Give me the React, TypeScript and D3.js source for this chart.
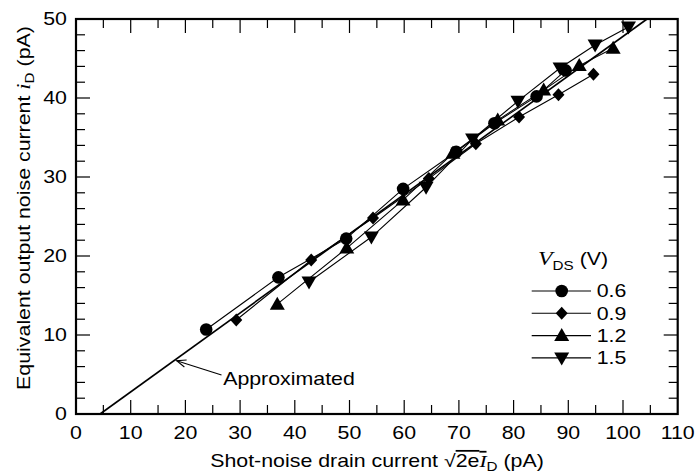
import React from "react";
import * as d3 from "d3";

const xTicks = [0, 10, 20, 30, 40, 50, 60, 70, 80, 90, 100, 110];
const yTicks = [0, 10, 20, 30, 40, 50];
const seriesNames = ["0.6", "0.9", "1.2", "1.5"];
const seriesMarkers = ["circle", "diamond", "triUp", "triDown"];

const s06: [number, number][] = [
  [23.8, 10.7], [37, 17.3], [49.4, 22.2], [59.8, 28.5], [69.5, 33.2], [76.5, 36.8], [84.2, 40.2], [89.5, 43.5],
];
const s09: [number, number][] = [
  [29.3, 11.9], [43, 19.5], [54.3, 24.8], [64.5, 29.8], [73.1, 34.2], [81, 37.6], [88.2, 40.4], [94.6, 43],
];
const s12: [number, number][] = [
  [36.8, 13.9], [49.5, 21], [59.8, 27.1], [68.9, 33], [77.1, 37.2], [85.5, 41], [92, 44.1], [98.2, 46.3],
];
const s15: [number, number][] = [
  [42.6, 16.7], [54, 22.4], [64, 28.7], [72.5, 34.8], [80.8, 39.6], [88.5, 43.8], [94.9, 46.7], [101, 49],
];
const seriesData = [s06, s09, s12, s15];
const approxLine: [number, number][] = [[4.4, 0], [104.4, 50]];

const W = 697, H = 474;
const L = 76, R = 677.7, T = 19, B = 414;
const x = d3.scaleLinear().domain([0, 110]).range([L, R]);
const y = d3.scaleLinear().domain([0, 50]).range([B, T]);
const SX = 1.22;
const FONT = "'Liberation Sans', Arial, Helvetica, sans-serif";
const SERIF = "'Liberation Serif', 'Times New Roman', serif";

function Marker({ type, cx, cy }: { type: string; cx: number; cy: number }) {
  if (type === "circle") return <circle cx={cx} cy={cy} r={6.3} fill="#000" />;
  if (type === "diamond")
    return <path d={`M${cx},${cy - 6.5}L${cx + 6},${cy}L${cx},${cy + 6.5}L${cx - 6},${cy}Z`} fill="#000" />;
  if (type === "triUp")
    return <path d={`M${cx},${cy - 7.5}L${cx + 7.5},${cy + 5.5}L${cx - 7.5},${cy + 5.5}Z`} fill="#000" />;
  return <path d={`M${cx},${cy + 7.5}L${cx + 7.5},${cy - 5.5}L${cx - 7.5},${cy - 5.5}Z`} fill="#000" />;
}

function SText(props: any) {
  const { x: tx, y: ty, anchor = "start", size = 17.5, rotate = 0, children, ...rest } = props;
  return (
    <text
      transform={`translate(${tx},${ty})${rotate ? ` rotate(${rotate})` : ""} scale(${SX},1)`}
      textAnchor={anchor}
      fontSize={size}
      fontFamily={FONT}
      fill="#000"
      {...rest}
    >
      {children}
    </text>
  );
}

export default function App() {
  const line = d3.line<[number, number]>().x((d) => x(d[0])).y((d) => y(d[1]));
  const xMinor = d3.range(0, 111, 5);
  const yMinor = d3.range(0, 51, 2);
  const legX0 = 531.7, legX1 = 591, legM = 561.7, legTextX = 596.7;
  const legY = [291, 313.3, 335.6, 357.9];

  const tipX = x(18.4), tipY = y(6.75);
  const tailX = x(26.6), tailY = y(4.94);
  const ang = Math.atan2(tailY - tipY, tailX - tipX);
  const ah = 10, aw = 0.38;

  return (
    <svg width={W} height={H} style={{ position: "absolute", left: 0, top: 0, background: "#fff" }}>
      <rect x={0} y={0} width={W} height={H} fill="#fff" />
      {xMinor.map((v) => {
        const major = v % 10 === 0;
        const len = major ? 14 : 9;
        if (v === 0 || v === 110) return null;
        return (
          <g key={"xt" + v} stroke="#000" strokeWidth={1.2}>
            <line x1={x(v)} x2={x(v)} y1={B} y2={B - len} />
            <line x1={x(v)} x2={x(v)} y1={T} y2={T + len} />
          </g>
        );
      })}
      {yMinor.map((v) => {
        const major = v % 10 === 0;
        const len = major ? 14 : 9;
        if (v === 0 || v === 50) return null;
        return (
          <g key={"yt" + v} stroke="#000" strokeWidth={1.2}>
            <line x1={L} x2={L + len} y1={y(v)} y2={y(v)} />
            <line x1={R} x2={R - len} y1={y(v)} y2={y(v)} />
          </g>
        );
      })}
      <path d={line(approxLine) || ""} fill="none" stroke="#000" strokeWidth={1.6} />
      {seriesData.map((s, i) => (
        <g key={"s" + i}>
          <path d={line(s) || ""} fill="none" stroke="#000" strokeWidth={1.1} />
          {s.map((d, j) => (
            <Marker key={j} type={seriesMarkers[i]} cx={x(d[0])} cy={y(d[1])} />
          ))}
        </g>
      ))}
      <rect x={L} y={T} width={R - L} height={B - T} fill="none" stroke="#000" strokeWidth={2.2} />
      {xTicks.map((v) => (
        <SText key={"xl" + v} x={x(v)} y={438.5} anchor="middle">
          {v}
        </SText>
      ))}
      {yTicks.map((v) => (
        <SText key={"yl" + v} x={67} y={y(v) + 6.3} anchor="end">
          {v}
        </SText>
      ))}
      <SText x={377} y={467} anchor="middle">
        Shot-noise drain current √<tspan style={{ textDecoration: "overline" }}>2e<tspan fontFamily={SERIF} fontStyle="italic">I</tspan></tspan>
        <tspan dy={4} fontSize={12.5}>D</tspan>
        <tspan dy={-4}> (pA)</tspan>
      </SText>
      <SText x={30} y={208} anchor="middle" rotate={-90}>
        Equivalent output noise current <tspan fontFamily={SERIF} fontStyle="italic" fontSize={18.5}>i</tspan>
        <tspan dy={4} fontSize={12.5}>D</tspan>
        <tspan dy={-4}> (pA)</tspan>
      </SText>
      <line x1={tailX} y1={tailY} x2={tipX} y2={tipY} stroke="#000" strokeWidth={1.1} />
      <path
        d={`M${tipX + ah * Math.cos(ang + aw)},${tipY + ah * Math.sin(ang + aw)}L${tipX},${tipY}L${tipX + ah * Math.cos(ang - aw)},${tipY + ah * Math.sin(ang - aw)}`}
        fill="none"
        stroke="#000"
        strokeWidth={1.1}
      />
      <SText x={x(26.9)} y={385}>Approximated</SText>
      <SText x={538} y={265}>
        <tspan fontFamily={SERIF} fontStyle="italic" fontSize={19.5}>V</tspan>
        <tspan dy={5} fontSize={12.5}>DS</tspan>
        <tspan dy={-5}> (V)</tspan>
      </SText>
      {seriesNames.map((n, i) => (
        <g key={"lg" + i}>
          <line x1={legX0} x2={legX1} y1={legY[i]} y2={legY[i]} stroke="#000" strokeWidth={1.1} />
          <Marker type={seriesMarkers[i]} cx={legM} cy={legY[i]} />
          <SText x={legTextX} y={legY[i] + 6.3}>
            {n}
          </SText>
        </g>
      ))}
    </svg>
  );
}
